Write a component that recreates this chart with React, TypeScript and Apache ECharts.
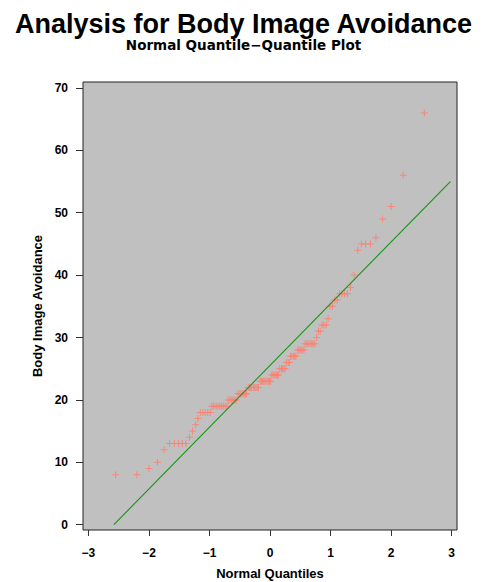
import React, { useEffect, useRef } from "react";
import * as echarts from "echarts";

const titleText = "Analysis for Body Image Avoidance";
const subtitleText = "Normal Quantile\u2212Quantile Plot";
const xAxisTitle = "Normal Quantiles";
const yAxisTitle = "Body Image Avoidance";

const xTicks = [-3, -2, -1, 0, 1, 2, 3];
const yTicks = [0, 10, 20, 30, 40, 50, 60, 70];

// Normal quantiles (x positions of the markers)
const quantiles = [
  -2.55, -2.2, -2.0, -1.86, -1.75, -1.66, -1.58, -1.51, -1.45, -1.39, -1.33, -1.28, -1.23, -1.19, -1.15, -1.11,
  -1.07, -1.03, -0.99, -0.96, -0.93, -0.89, -0.86, -0.83, -0.8, -0.77, -0.74, -0.71, -0.69, -0.66, -0.63, -0.61,
  -0.58, -0.56, -0.53, -0.51, -0.48, -0.46, -0.43, -0.41, -0.39, -0.36, -0.34, -0.32, -0.3, -0.27, -0.25, -0.23,
  -0.21, -0.19, -0.16, -0.14, -0.12, -0.1, -0.08, -0.05, -0.03, -0.01,
  0.01, 0.03, 0.05, 0.08, 0.1, 0.12, 0.14, 0.16, 0.19, 0.21, 0.23, 0.25, 0.27, 0.3, 0.32, 0.34, 0.36, 0.39, 0.41,
  0.43, 0.46, 0.48, 0.51, 0.53, 0.56, 0.58, 0.61, 0.63, 0.66, 0.69, 0.71, 0.74, 0.77, 0.8, 0.83, 0.86, 0.89, 0.93,
  0.96, 0.99, 1.03, 1.07, 1.11, 1.15, 1.19, 1.23, 1.28, 1.33, 1.39, 1.45, 1.51, 1.58, 1.66, 1.75, 1.86, 2.0, 2.2,
  2.55,
];

// Body Image Avoidance scores (sorted)
const scores = [
  8, 8, 9, 10, 12, 13, 13, 13, 13, 13, 14, 15, 16, 17, 18, 18, 18, 18, 18, 19, 19, 19, 19, 19, 19, 19, 19, 19, 20,
  20, 20, 20, 20, 20, 21, 21, 21, 21, 21, 21, 21, 22, 22, 22, 22, 22, 22, 22, 22, 22, 23, 23, 23, 23, 23, 23, 23,
  23, 23, 24, 24, 24, 24, 24, 24, 25, 25, 25, 25, 25, 26, 26, 26, 27, 27, 27, 27, 27, 28, 28, 28, 28, 28, 29, 29,
  29, 29, 29, 29, 29, 30, 31, 31, 32, 32, 32, 33, 35, 35, 36, 36, 37, 37, 37, 37, 38, 40, 44, 45, 45, 45, 46, 49,
  51, 56, 66,
];

// Reference line endpoints (quantile, score)
const refLineX = [-2.58, 2.98];
const refLineY = [0, 55];

const FONT = "'Liberation Sans', Arial, Helvetica, sans-serif";
const WIDE_FONT = "'DejaVu Sans', 'Liberation Sans', sans-serif";
const fmt = (v: number) => (v < 0 ? "\u2212" + Math.abs(v) : String(v));

export default function App() {
  const ref = useRef<HTMLDivElement>(null);
  useEffect(() => {
    if (!ref.current) return;
    const chart = echarts.init(ref.current, null, { renderer: "svg", width: 487, height: 582 });
    const points = quantiles.map((q, i) => [q, scores[i]]);
    const line = refLineX.map((x, i) => [x, refLineY[i]]);
    chart.setOption({
      animation: false,
      backgroundColor: "#ffffff",
      title: {
        text: titleText,
        subtext: subtitleText,
        left: "center",
        top: 5,
        itemGap: 1,
        textStyle: { fontFamily: FONT, fontSize: 27, fontWeight: "bold", color: "#000" },
        subtextStyle: { fontFamily: WIDE_FONT, fontSize: 13.5, fontWeight: "bold", color: "#000" },
      },
      grid: {
        left: 83,
        right: 30,
        top: 82,
        bottom: 52,
        outerBoundsMode: "none",
        containLabel: false,
        show: true,
        backgroundColor: "#c0c0c0",
        borderColor: "#222",
        borderWidth: 1,
      },
      xAxis: {
        type: "value",
        min: -3.09,
        max: 3.09,
        name: xAxisTitle,
        nameLocation: "middle",
        nameGap: 37,
        nameTextStyle: { fontFamily: FONT, fontSize: 13, fontWeight: "bold", color: "#000" },
        axisLine: { show: false, onZero: false },
        splitLine: { show: false },
        axisTick: { show: true, length: 6, lineStyle: { color: "#333" }, customValues: xTicks },
        axisLabel: {
          customValues: xTicks,
          margin: 17,
          fontFamily: FONT,
          fontSize: 12,
          fontWeight: "bold",
          color: "#000",
          formatter: fmt,
        },
      },
      yAxis: {
        type: "value",
        min: -0.85,
        max: 70.95,
        name: yAxisTitle,
        nameLocation: "middle",
        nameGap: 33,
        nameRotate: 90,
        nameTextStyle: { fontFamily: FONT, fontSize: 13, fontWeight: "bold", color: "#000" },
        axisLine: { show: false, onZero: false },
        splitLine: { show: false },
        axisTick: { show: true, length: 7, lineStyle: { color: "#333" }, customValues: yTicks },
        axisLabel: {
          customValues: yTicks,
          margin: 15,
          fontFamily: FONT,
          fontSize: 12,
          fontWeight: "bold",
          color: "#000",
          formatter: fmt,
        },
      },
      series: [
        {
          type: "scatter",
          data: points,
          symbol: "path://M3,0 L4,0 L4,3 L7,3 L7,4 L4,4 L4,7 L3,7 L3,4 L0,4 L0,3 L3,3 Z",
          symbolSize: 7,
          itemStyle: { color: "#ff8070", opacity: 0.9 },
          z: 2,
        },
        {
          type: "line",
          data: line,
          symbol: "none",
          lineStyle: { color: "#139613", width: 1.1 },
          z: 3,
        },
      ],
    });
    return () => chart.dispose();
  }, []);
  return <div ref={ref} style={{ position: "fixed", left: 0, top: 0, width: 487, height: 582 }} />;
}
